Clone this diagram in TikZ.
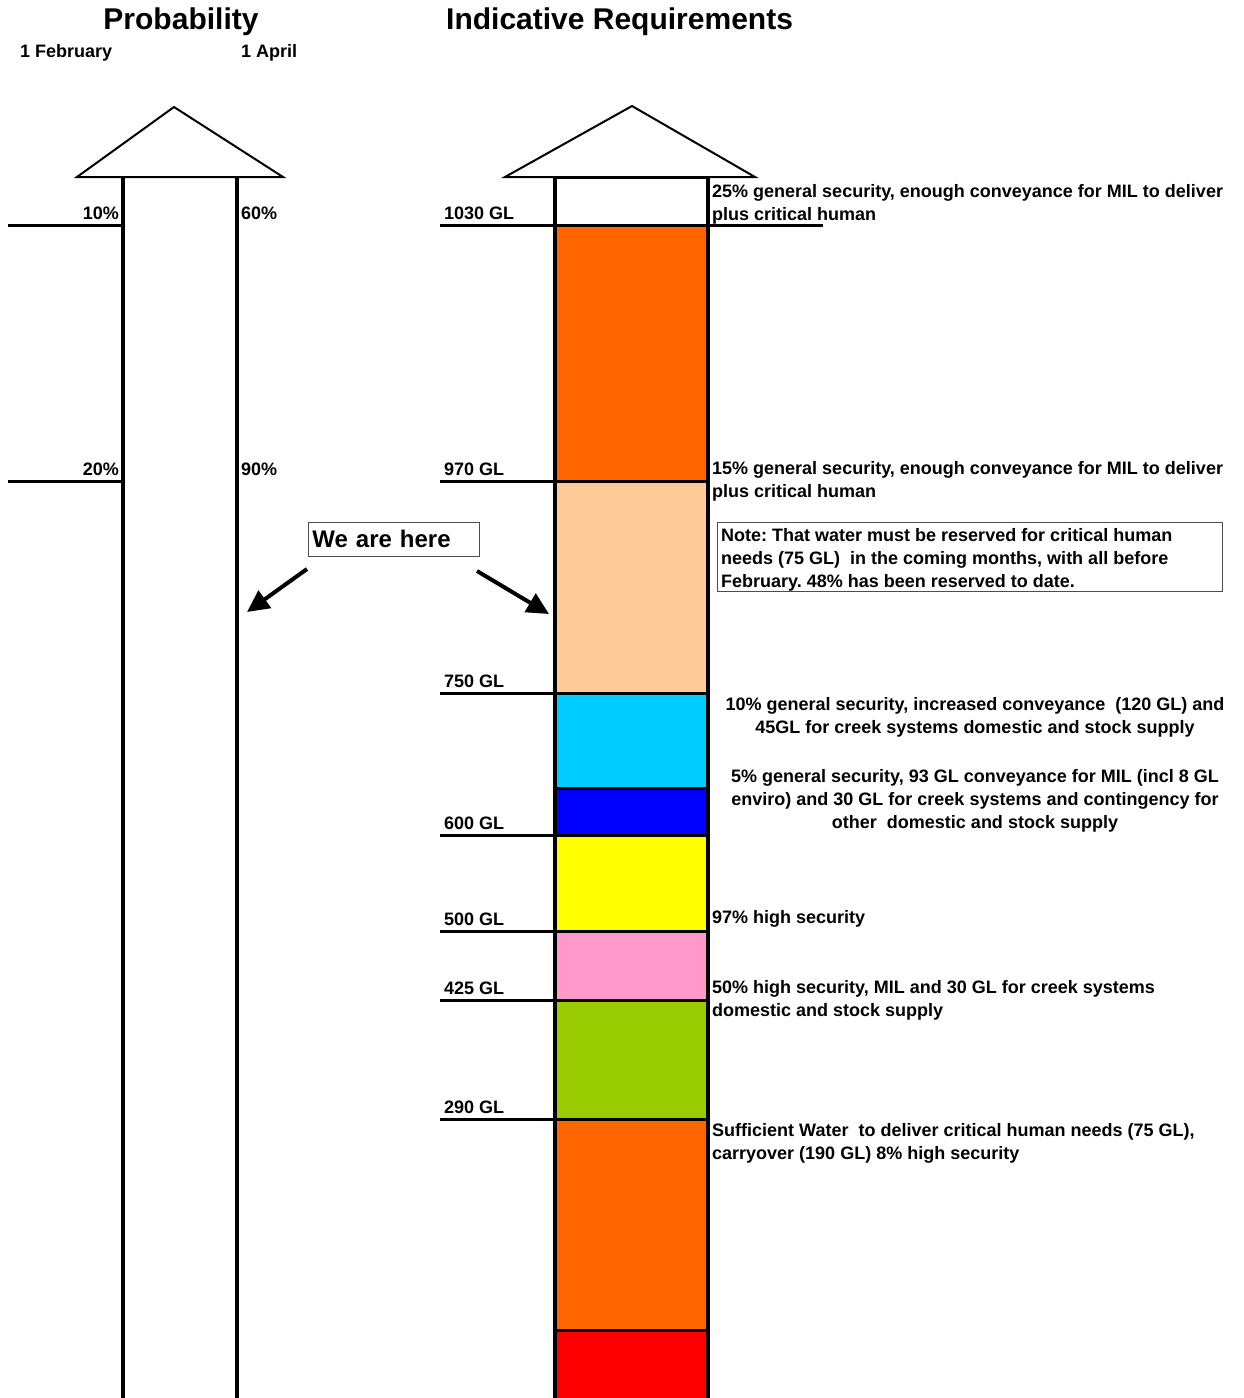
\documentclass[tikz,border=0pt]{standalone}
\usepackage{fontspec}
\setmainfont{Liberation Sans}
\usetikzlibrary{arrows.meta}
\definecolor{orangeband}{HTML}{FF6600}
\definecolor{peachband}{HTML}{FFCC99}
\definecolor{cyanband}{HTML}{00CCFF}
\definecolor{blueband}{HTML}{0000FF}
\definecolor{yellowband}{HTML}{FFFF00}
\definecolor{pinkband}{HTML}{FF99CC}
\definecolor{greenband}{HTML}{99CC00}
\definecolor{redband}{HTML}{FF0000}
\newcommand{\colL}{555}
\newcommand{\colR}{708}
\newcommand{\probL}{123}
\newcommand{\probR}{237}
\frenchspacing

\begin{document}
\begin{tikzpicture}[x=1pt,y=-1pt,
    font=\bfseries\fontsize{18}{23}\selectfont,
    bar/.style={line width=3.5pt},
    lvl/.style={line width=3pt},
    roof/.style={draw, line width=2pt, fill=white, line join=miter},
    lbl/.style={inner sep=0pt},
    note/.style={inner sep=0pt, align=left, anchor=base west},
    frame/.style={draw=black!70, line width=0.8pt},
    hereptr/.style={line width=4pt, -{Triangle[length=22pt,width=21pt]}}]

        \useasboundingbox (0,0) rectangle (1244,1398);

        % Titles
        \node[lbl, anchor=base, font=\bfseries\fontsize{30}{34}\selectfont] (probtitle) at (181,29) {Probability};
        \node[lbl, anchor=base west, font=\bfseries\fontsize{30}{34}\selectfont] (reqtitle) at (446,29) {Indicative Requirements};
        \node[lbl, anchor=base west] (feb) at (20,57) {1 February};
        \node[lbl, anchor=base west] (apr) at (241,57) {1 April};

        % Probability column
        \draw[roof] (77,177) -- (174,107) -- (283,177) -- cycle;
        \draw[bar] (\probL,177) -- (\probL,1398);
        \draw[bar] (\probR,177) -- (\probR,1398);
        \foreach \y/\lo/\hi in {225/10/60, 481/20/90} {
            \draw[lvl] (8,\y) -- (\probL,\y);
            \node[lbl, anchor=base east] at (119,\y-6) {\lo\%};
            \node[lbl, anchor=base west] at (241,\y-6) {\hi\%};
        }

        % Requirements column
        \draw[roof] (505,177) -- (632,106) -- (755,177) -- cycle;
        \foreach \top/\bot/\col in {225/481/orangeband, 481/693/peachband,
                693/788/cyanband, 788/835/blueband, 835/931/yellowband,
                931/1000/pinkband, 1000/1119/greenband, 1119/1330/orangeband,
                1330/1398/redband}
            \fill[\col] (\colL,\top) rectangle (\colR,\bot);
        \foreach \y in {177,225,481,693,788,835,931,1000,1119,1330}
            \draw[lvl] (\colL,\y) -- (\colR,\y);
        \draw[bar] (\colL,177) -- (\colL,1398);
        \draw[bar] (\colR,177) -- (\colR,1398);
        \draw[lvl] (\colR,225) -- (823,225);

        % Volume levels
        \foreach \y/\v in {225/1030, 481/970, 693/750, 835/600, 931/500, 1000/425, 1119/290} {
            \draw[lvl] (440,\y) -- (\colL,\y);
            \node[lbl, anchor=base west] at (444,\y-6) {\v\ GL};
        }

        % Descriptions (base = last line)
        \node[note] (d1030) at (712,220) {25\% general security, enough conveyance for MIL to deliver\\plus critical human};
        \node[note] (d970) at (712,497) {15\% general security, enough conveyance for MIL to deliver\\plus critical human};
        \draw[frame] (717,522) rectangle (1222,591);
        \node[note] (reserve) at (721,587)
            {Note: That water must be reserved for critical human\\needs (75 GL)~ in the coming months, with all before\\February. 48\% has been reserved to date.};
        \node[note, align=center, anchor=base] (d750) at (975,733)
            {10\% general security, increased conveyance~ (120 GL) and\\45GL for creek systems domestic and stock supply};
        \node[note, align=center, anchor=base] (d600) at (975,828)
            {5\% general security, 93 GL conveyance for MIL (incl 8 GL\\enviro) and 30 GL for creek systems and contingency for\\other~ domestic and stock supply};
        \node[note] (d500) at (712,923) {97\% high security};
        \node[note] (d425) at (712,1016) {50\% high security, MIL and 30 GL for creek systems\\domestic and stock supply};
        \node[note] (d290) at (712,1159) {Sufficient Water~ to deliver critical human needs (75 GL),\\carryover (190 GL) 8\% high security};

        % We are here
        \node[frame, anchor=north west, text width=163pt, align=left,
            minimum height=34pt, inner xsep=4pt, inner ysep=0pt,
            font=\bfseries\fontsize{24}{28}\selectfont] (here) at (308,522) {We are here};
        \coordinate (hereL) at (307,569);
        \coordinate (hereR) at (477,571);
        \coordinate (probpt) at (247,612);
        \coordinate (reqpt) at (549,614);
        \draw[hereptr] (hereL) -- (probpt);
        \draw[hereptr] (hereR) -- (reqpt);
    \end{tikzpicture}
\end{document}
